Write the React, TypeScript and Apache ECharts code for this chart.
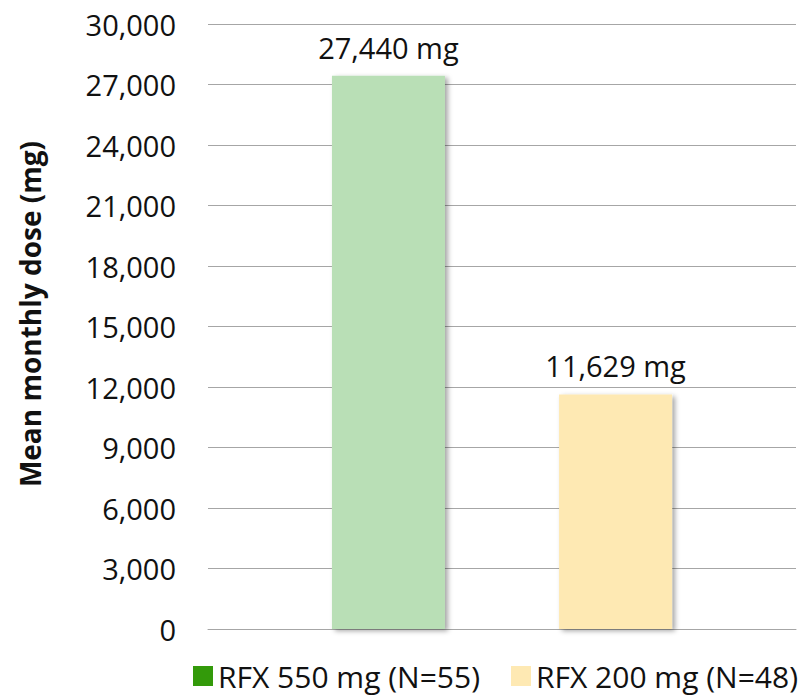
import React, { useEffect, useRef } from "react";
import * as echarts from "echarts";

const categories = [""];
const seriesNames = ["RFX 550 mg (N=55)", "RFX 200 mg (N=48)"];
const seriesValues = [27440, 11629];
const barColors = ["#b9dfb6", "#fee9b3"];
const legendColors = ["#339a0a", "#fee9b3"];
const legendLefts = [193, 511];
const yTicks = { min: 0, max: 30000, interval: 3000 };
const yTitle = "Mean monthly dose (mg)";

const FONT = "'Open Sans', 'Noto Sans', sans-serif";

export default function App() {
  const ref = useRef<HTMLDivElement>(null);
  useEffect(() => {
    if (!ref.current) return;
    const chart = echarts.init(ref.current, undefined, { renderer: "svg" });
    const fmt = (v: number) => v.toLocaleString("en-US");
    chart.setOption({
      animation: false,
      backgroundColor: "#ffffff",
      textStyle: { fontFamily: FONT },
      grid: { left: 208, right: 7, top: 24, bottom: 71 },
      legend: seriesNames.map((n, i) => ({
        left: legendLefts[i],
        top: 661,
        icon: "rect",
        itemWidth: 20,
        itemHeight: 20,
        padding: 0,
        textStyle: { fontSize: 30, color: "#111", fontFamily: FONT },
        data: [{ name: n, itemStyle: { color: legendColors[i] } }],
      })),
      xAxis: {
        type: "category",
        data: categories,
        axisLine: { lineStyle: { color: "#a6a6a6", width: 1 } },
        axisTick: { show: false },
        axisLabel: { show: false },
      },
      yAxis: {
        type: "value",
        min: yTicks.min,
        max: yTicks.max,
        interval: yTicks.interval,
        axisLine: { show: false },
        axisTick: { show: false },
        splitLine: { lineStyle: { color: "#a6a6a6", width: 1 } },
        axisLabel: {
          margin: 32,
          fontSize: 29,
          color: "#111",
          fontFamily: FONT,
          formatter: (v: number) => fmt(v),
        },
      },
      graphic: [
        {
          type: "text",
          x: 30,
          y: 314,
          rotation: Math.PI / 2,
          style: {
            text: yTitle,
            fontSize: 28,
            fontWeight: "bold",
            fontFamily: FONT,
            fill: "#111",
            textAlign: "center",
            textVerticalAlign: "middle",
          },
        },
      ],
      series: seriesNames.map((name, i) => ({
        name,
        type: "bar",
        data: [seriesValues[i]],
        barWidth: 113,
        barGap: "101%",
        itemStyle: {
          color: barColors[i],
          shadowColor: "rgba(0,0,0,0.35)",
          shadowBlur: 5,
          shadowOffsetX: 3,
          shadowOffsetY: 2,
        },
        label: {
          show: true,
          position: "top",
          distance: 14,
          fontSize: 29,
          color: "#111",
          fontFamily: FONT,
          formatter: (p: any) => fmt(p.value) + " mg",
        },
      })),
    });
    return () => chart.dispose();
  }, []);
  return <div ref={ref} style={{ width: 803, height: 700, position: "absolute", left: 0, top: 0 }} />;
}
